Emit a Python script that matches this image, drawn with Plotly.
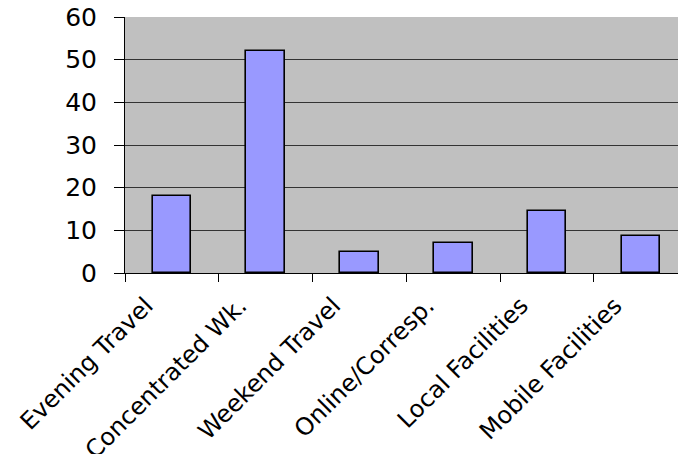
import plotly.graph_objects as go

# Survey responses by delivery option
categories = ["Evening Travel", "Concentrated Wk.", "Weekend Travel",
              "Online/Corresp.", "Local Facilities", "Mobile Facilities"]
values = [18, 52, 5, 7, 14.6, 8.7]
y_ticks = [0, 10, 20, 30, 40, 50, 60]

fig = go.Figure(
    go.Bar(
        x=categories,
        y=values,
        width=0.41,
        marker=dict(color="#9999FF", line=dict(color="#000000", width=1.6)),
    )
)

fig.update_layout(
    width=678,
    height=454,
    margin=dict(l=125, r=0, t=17, b=181),
    paper_bgcolor="white",
    plot_bgcolor="#C0C0C0",
    font=dict(family="DejaVu Sans, Arial, sans-serif", color="black"),
    showlegend=False,
    bargap=0,
)

fig.update_xaxes(
    type="category",
    range=[-0.5, 5.396],
    tickangle=-45,
    tickfont=dict(size=24),
    tickson="boundaries",
    ticks="outside",
    ticklen=8,
    tickcolor="#000000",
    ticklabelshift=-26,
    ticklabelstandoff=8,
    showline=True,
    linecolor="#000000",
    linewidth=1,
    showgrid=False,
    automargin=False,
)

fig.update_yaxes(
    range=[0, 60],
    tickvals=y_ticks,
    tickfont=dict(size=25),
    ticks="outside",
    ticklen=10,
    tickcolor="#000000",
    ticklabelstandoff=12,
    showline=True,
    linecolor="#000000",
    linewidth=1,
    showgrid=True,
    gridcolor="#333333",
    gridwidth=1,
    zeroline=False,
    automargin=False,
)

fig.write_html("out.html")
